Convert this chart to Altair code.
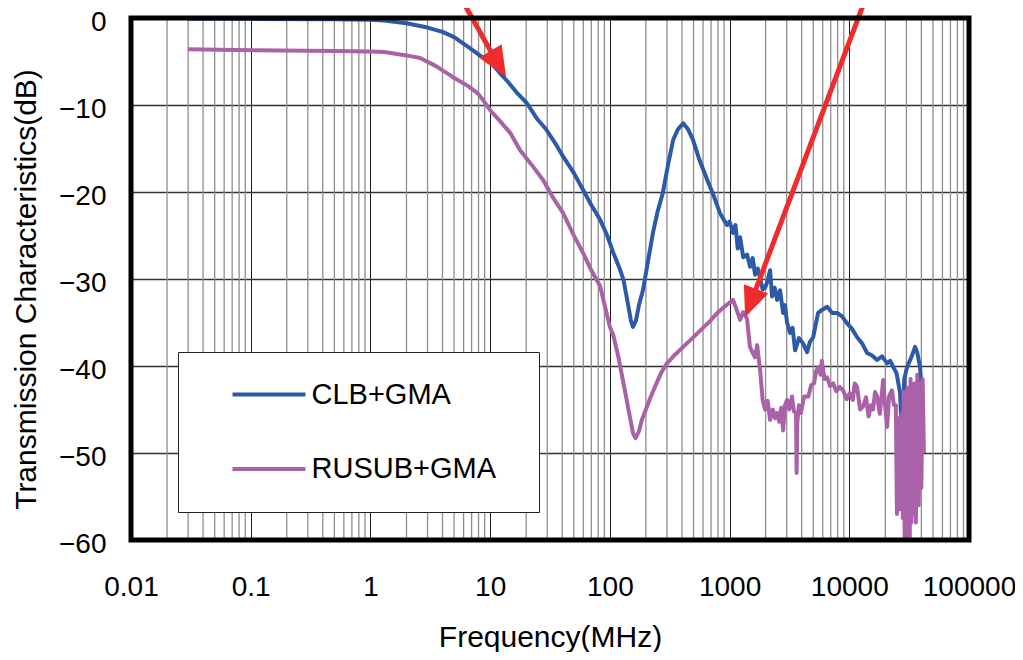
import altair as alt
import pandas as pd

# ---------------- data ----------------
clb_freq = [0.03, 0.1, 0.5, 1.0, 1.3, 2.0, 3.0, 4.0, 5.0, 6.5, 8.2, 10, 12, 14, 17, 20.3, 25, 29,
            35, 41, 50, 60, 70, 83, 95, 107, 120, 130, 140, 150, 156, 165, 175, 189, 205, 229,
            250, 277, 305, 338, 370, 410, 450, 495, 560, 650, 740, 830, 950, 1000, 1070, 1120,
            1170, 1225, 1300, 1400, 1483, 1560, 1633, 1720, 1798, 1890, 1980, 2080, 2180, 2265,
            2380, 2495, 2640, 2800, 2900, 3020, 3200, 3360, 3525, 3800, 4110, 4440, 4700, 4990,
            5250, 5490, 6000, 6530, 7200, 7910, 8700, 9590, 10500, 11620, 12800, 14090, 15500,
            17070, 18800, 20700, 22000, 23230, 24800, 26560, 27620, 28800, 30400, 33000, 35480,
            37000, 39000, 41400]
clb_db = [-0.1, -0.1, -0.15, -0.2, -0.3, -0.6, -1.1, -1.6, -2.2, -3.3, -4.3, -5.0, -6.3, -7.3,
          -8.7, -9.8, -11.7, -12.7, -14.4, -16.0, -17.8, -19.8, -21.5, -23.2, -25.0, -27.0,
          -28.7, -30.1, -32.5, -34.8, -35.5, -34.8, -33.0, -31.3, -28.5, -24.7, -22.3, -20.1,
          -17.0, -14.0, -12.8, -12.1, -12.8, -14.0, -16.3, -18.6, -20.5, -22.4, -23.8, -23.4,
          -24.7, -23.8, -26.5, -25.2, -27.5, -27.2, -28.6, -27.6, -29.5, -28.8, -29.9, -31.2,
          -31.0, -30.2, -29.0, -32.0, -31.0, -32.4, -31.3, -33.9, -33.0, -35.0, -36.2, -35.6,
          -38.2, -36.8, -37.4, -38.4, -37.2, -36.7, -35.2, -33.9, -33.5, -33.2, -33.9, -33.9,
          -34.3, -35.1, -35.7, -36.7, -37.4, -38.5, -38.8, -39.3, -38.9, -39.7, -39.4, -40.1,
          -40.8, -43.1, -48.5, -41.5, -40.1, -39.0, -37.8, -38.5, -40.1, -45.4]

rusub_freq = [0.03, 0.1, 0.5, 1.0, 1.3, 2.0, 2.6, 3.5, 4.9, 6.5, 7.8, 8.7, 10, 12, 14.7, 17.8, 22,
              27.6, 33, 40.6, 50, 59.7, 70, 82.8, 100, 107, 118, 130, 143, 156, 164, 175, 185,
              200, 220, 245, 270, 300, 350, 410, 490, 570, 680, 790, 920, 1070, 1150, 1225,
              1300, 1400, 1480, 1560, 1630, 1700, 1800, 1890, 1980, 2080, 2180, 2300, 2400,
              2495, 2600, 2700, 2800, 2900, 3020, 3150, 3320, 3450, 3590, 3630, 3680, 3800,
              3940, 4200, 4560, 4800, 5080, 5300, 5580, 5750, 5900, 6200, 6530, 6900, 7330,
              7800, 8300, 8880, 9500, 10100, 10700, 11100, 11620, 12300, 13000, 13800, 14500,
              15200, 15800, 16400, 17070, 18000, 19200, 19900, 20700, 21500, 22700, 23600,
              24500, 25000, 25500, 26000, 26500, 27000, 27500, 28000, 28500, 29000, 29500,
              30000, 30500, 31000, 31500, 32000, 32500, 33000, 33500, 34000, 35000, 36000,
              37000, 38000, 39000, 40000, 41000, 42000]
rusub_db = [-3.6, -3.7, -3.8, -3.85, -3.9, -4.3, -4.6, -5.5, -6.8, -7.8, -8.6, -9.4, -10.6, -11.8,
            -13.2, -15.2, -16.8, -18.6, -20.5, -22.4, -25.0, -27.0, -29.0, -30.8, -35.5, -36.5,
            -39.0, -42.0, -45.0, -47.7, -48.3, -47.5, -46.2, -45.0, -43.5, -42.0, -40.7, -39.7,
            -38.7, -37.8, -36.8, -35.9, -34.9, -33.9, -33.1, -32.4, -33.6, -34.7, -33.8, -34.6,
            -37.8, -38.5, -39.0, -37.6, -40.5, -43.9, -45.0, -44.0, -46.2, -45.0, -46.0, -45.4,
            -46.4, -44.8, -47.4, -44.5, -43.9, -45.0, -43.5, -45.2, -45.5, -52.3, -46.5, -44.5,
            -45.4, -43.5, -43.5, -42.2, -42.0, -40.5, -40.1, -41.0, -39.4, -41.5, -41.3, -42.3,
            -42.0, -42.9, -42.4, -42.8, -43.8, -43.1, -43.9, -42.0, -42.4, -45.0, -44.7, -43.6,
            -45.8, -44.5, -45.0, -43.0, -43.5, -45.5, -41.6, -44.5, -47.0, -43.5, -42.8, -44.5,
            -44.5, -57.0, -46.0, -56.5, -47.0, -53.0, -45.5, -57.5, -43.0, -60.0, -46.0, -59.0,
            -42.5, -60.0, -44.0, -60.0, -41.5, -58.0, -43.0, -57.0, -42.0, -58.0, -41.0, -56.0,
            -42.0, -54.0, -41.5, -50.0]

series_names = ["CLB+GMA", "RUSUB+GMA"]
series_colors = ["#2C5AA8", "#A962A8"]
x_ticks = [0.01, 0.1, 1, 10, 100, 1000, 10000, 100000]
y_ticks = [-60, -50, -40, -30, -20, -10, 0]
minor_freqs = [m * 10.0 ** e for e in range(-2, 5) for m in range(2, 10)]

# red annotation arrows (tail -> arrow-head base, tip)
arrow_tail_freq = [5.82, 13550]
arrow_tail_db = [2.07, 2.07]
arrow_base_freq = [10.6, 1603]
arrow_base_db = [-4.3, -31.7]
arrow_tip_freq = [13.6, 1349]
arrow_tip_db = [-6.8, -34.4]
arrow_angle = [149, 201]

# ---------------- tables ----------------
lines_df = pd.DataFrame(
    {"f": clb_freq + rusub_freq,
     "db": clb_db + rusub_db,
     "series": [series_names[0]] * len(clb_freq) + [series_names[1]] * len(rusub_freq)}
)
minor_df = pd.DataFrame({"f": minor_freqs})
arrow_df = pd.DataFrame({"f1": arrow_tail_freq, "d1": arrow_tail_db,
                         "f2": arrow_base_freq, "d2": arrow_base_db,
                         "ft": arrow_tip_freq, "dt": arrow_tip_db, "ang": arrow_angle})

W, H = 838, 522
FONT = "Liberation Sans, Arial, Noto Sans CJK JP"
xs = alt.Scale(type="log", domain=[0.01, 100000], nice=False)
ys = alt.Scale(domain=[-60, 0], nice=False, zero=False)
xaxis = alt.Axis(values=x_ticks, format="~g", grid=True, gridColor="#1e1e1e", gridWidth=1,
                 ticks=False, tickSize=0, domain=False, labelFont=FONT, labelFontSize=28,
                 labelColor="black", labelPadding=33, labelFlush=False,
                 title="Frequency(MHz)", titleFont=FONT, titleFontSize=30,
                 titleFontWeight="normal", titleColor="black", titleX=W / 2, titleY=106,
                 titleBaseline="alphabetic", titleAlign="center")
yaxis = alt.Axis(values=y_ticks, grid=True, gridColor="#333333", gridWidth=1.4,
                 ticks=False, tickSize=0, domain=False, labelFont=FONT, labelFontSize=28,
                 labelColor="black", labelPadding=25, labelOffset=4, labelFlush=False,
                 title="Transmission Characteristics(dB)", titleFont=FONT, titleFontSize=30,
                 titleFontWeight="normal", titleColor="black", titleAngle=270, titleX=-96,
                 titleY=271, titleBaseline="alphabetic", titleAlign="center")

minor = alt.Chart(minor_df).mark_rule(color="#8e8e8e", strokeWidth=1.3).encode(
    x=alt.X("f:Q", scale=xs, axis=xaxis)
)

legend = alt.Legend(orient="none", legendX=47, legendY=334,
                    title="\u00a0", titleOrient="bottom", titleFontSize=1, titlePadding=5,
                    titleColor="white",
                    symbolType="M-2,0H2M13.1,0", symbolSize=1332, symbolStrokeWidth=4,
                    symbolOffset=48.5, labelOffset=22, labelFont=FONT, labelFontSize=29,
                    labelLimit=600, labelColor="black",
                    fillColor="white", strokeColor="#222222", padding=22, rowPadding=38.5)

lines = alt.Chart(lines_df).mark_line(strokeWidth=4, strokeJoin="round").encode(
    x=alt.X("f:Q", scale=xs, axis=xaxis),
    y=alt.Y("db:Q", scale=ys, axis=yaxis),
    color=alt.Color("series:N", scale=alt.Scale(domain=series_names, range=series_colors),
                    legend=legend),
)

arrow_lines = alt.Chart(arrow_df).mark_rule(color="#EE2C2C", strokeWidth=5).encode(
    x=alt.X("f1:Q", scale=xs, axis=xaxis), y=alt.Y("d1:Q", scale=ys, axis=yaxis),
    x2="f2:Q", y2="d2:Q"
)
arrow_heads = alt.Chart(arrow_df).mark_point(
    shape="M0,0L-0.9,2.1L0.9,2.1Z", filled=True, size=841, opacity=1, color="#EE2C2C",
    strokeWidth=0
).encode(
    x=alt.X("ft:Q", scale=xs, axis=xaxis), y=alt.Y("dt:Q", scale=ys, axis=yaxis),
    angle=alt.Angle("ang:Q", scale=None)
)

# thick black plot frame drawn above the data
frame = alt.Chart(pd.DataFrame({"k": [0]})).mark_rect(
    filled=False, stroke="black", strokeWidth=5
).encode(x=alt.value(0), x2=alt.value(W), y=alt.value(0), y2=alt.value(H))

chart = alt.layer(minor, lines, arrow_lines, arrow_heads, frame).properties(
    width=W, height=H,
    autosize=alt.AutoSizeParams(type="none"),
    padding={"left": 123, "top": 10, "right": 46, "bottom": 112},
    background="white",
).configure_view(strokeWidth=0, fill="white")

chart.save("out.html", embed_options={"renderer": "svg", "actions": False})
